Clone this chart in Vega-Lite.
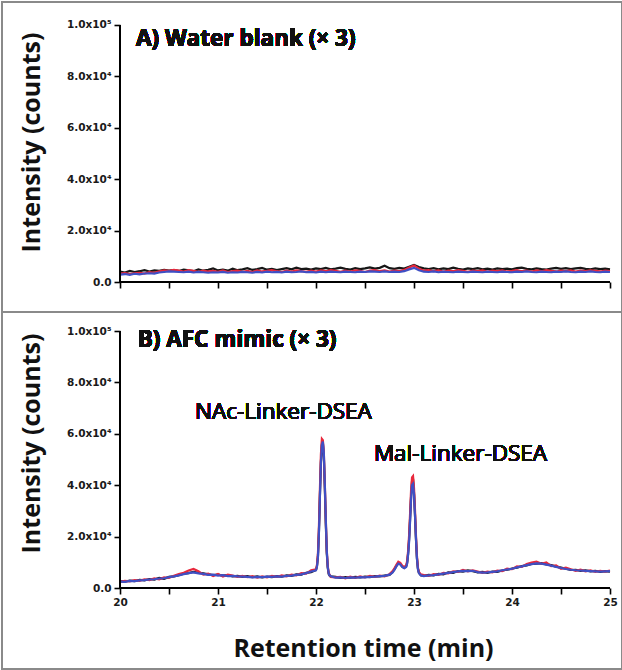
{
  "$schema": "https://vega.github.io/schema/vega-lite/v6.json",
  "padding": 1,
  "spacing": 0,
  "bounds": "flush",
  "background": "white",
  "config": {
    "view": {"stroke": "#8a8a8a", "strokeWidth": 2},
    "axis": {
      "grid": false, "domain": false, "ticks": true,
      "tickColor": "#000", "tickSize": 6, "tickWidth": 1.6,
      "labelFont": "DejaVu Sans", "labelFontWeight": "bold", "labelFontSize": 10.5, "labelColor": "#1a1a1a",
      "labelOverlap": false, "labelFlush": false, "labelBound": false, "labelPadding": 3,
      "titleFont": "Open Sans", "titleFontWeight": "bold", "titleFontSize": 25, "titleColor": "#111"
    },
    "text": {"font": "Open Sans", "color": "#111"}
  },
  "datasets": {
    "a": [
      {"t":20.00,"k":4100,"r":3300,"b":2900},{"t":20.05,"k":3700,"r":3500,"b":3100},{"t":20.10,"k":4300,"r":3100,"b":2800},
      {"t":20.15,"k":3900,"r":3400,"b":3200},{"t":20.20,"k":4200,"r":3600,"b":3000},{"t":20.25,"k":4600,"r":3300,"b":3300},
      {"t":20.30,"k":4100,"r":3800,"b":3400},{"t":20.35,"k":4500,"r":3600,"b":3300},{"t":20.40,"k":4300,"r":4200,"b":3700},
      {"t":20.45,"k":4700,"r":4500,"b":3900},{"t":20.50,"k":4400,"r":4300,"b":4100},{"t":20.55,"k":4600,"r":4700,"b":4000},
      {"t":20.60,"k":4300,"r":4400,"b":3900},{"t":20.65,"k":4800,"r":4100,"b":3800},{"t":20.70,"k":4500,"r":4600,"b":4000},
      {"t":20.75,"k":4200,"r":4300,"b":3700},{"t":20.80,"k":4900,"r":4000,"b":3900},{"t":20.85,"k":4400,"r":4400,"b":3800},
      {"t":20.90,"k":4700,"r":4100,"b":3600},{"t":20.95,"k":5300,"r":4300,"b":3800},{"t":21.00,"k":4500,"r":4000,"b":3700},
      {"t":21.05,"k":4800,"r":4500,"b":3900},{"t":21.10,"k":4400,"r":3900,"b":3600},{"t":21.15,"k":5200,"r":4200,"b":3800},
      {"t":21.20,"k":4600,"r":4400,"b":3700},{"t":21.25,"k":4900,"r":4000,"b":3900},{"t":21.30,"k":5400,"r":4300,"b":3800},
      {"t":21.35,"k":4700,"r":3900,"b":3600},{"t":21.40,"k":5000,"r":4500,"b":3900},{"t":21.45,"k":5500,"r":4100,"b":3700},
      {"t":21.50,"k":4800,"r":4300,"b":4000},{"t":21.55,"k":5100,"r":4600,"b":3800},{"t":21.60,"k":4600,"r":4200,"b":3900},
      {"t":21.65,"k":5000,"r":3900,"b":3700},{"t":21.70,"k":5400,"r":4400,"b":4000},{"t":21.75,"k":4900,"r":4100,"b":3800},
      {"t":21.80,"k":5600,"r":4500,"b":3900},{"t":21.85,"k":5000,"r":4200,"b":4100},{"t":21.90,"k":5200,"r":4000,"b":3800},
      {"t":21.95,"k":4800,"r":4400,"b":3900},{"t":22.00,"k":5300,"r":4100,"b":3700},{"t":22.05,"k":5000,"r":4500,"b":4000},
      {"t":22.10,"k":5500,"r":4200,"b":3800},{"t":22.15,"k":4900,"r":4600,"b":4000},{"t":22.20,"k":5200,"r":4300,"b":3900},
      {"t":22.25,"k":5600,"r":4000,"b":3800},{"t":22.30,"k":5100,"r":4400,"b":4000},{"t":22.35,"k":4800,"r":4100,"b":3900},
      {"t":22.40,"k":5400,"r":4500,"b":3800},{"t":22.45,"k":5000,"r":4300,"b":4000},{"t":22.50,"k":5300,"r":3900,"b":3900},
      {"t":22.55,"k":5700,"r":4400,"b":4100},{"t":22.60,"k":5200,"r":4600,"b":4000},{"t":22.65,"k":5500,"r":4200,"b":3900},
      {"t":22.70,"k":6300,"r":4500,"b":4100},{"t":22.75,"k":5400,"r":4100,"b":3900},{"t":22.80,"k":5100,"r":4400,"b":4000},
      {"t":22.85,"k":5500,"r":4200,"b":3900},{"t":22.90,"k":5200,"r":4700,"b":4200},{"t":22.95,"k":5900,"r":5600,"b":4900},
      {"t":23.00,"k":6600,"r":6400,"b":5500},{"t":23.05,"k":5800,"r":5200,"b":4600},{"t":23.10,"k":5300,"r":4400,"b":4000},
      {"t":23.15,"k":5000,"r":4600,"b":3900},{"t":23.20,"k":5400,"r":4200,"b":4100},{"t":23.25,"k":4900,"r":4500,"b":3800},
      {"t":23.30,"k":5300,"r":4100,"b":4000},{"t":23.35,"k":5000,"r":4400,"b":3900},{"t":23.40,"k":5600,"r":4200,"b":3800},
      {"t":23.45,"k":5100,"r":4600,"b":4000},{"t":23.50,"k":4800,"r":4300,"b":3900},{"t":23.55,"k":5300,"r":4000,"b":3800},
      {"t":23.60,"k":5000,"r":4400,"b":4000},{"t":23.65,"k":5400,"r":4200,"b":3900},{"t":23.70,"k":4900,"r":4500,"b":3800},
      {"t":23.75,"k":5200,"r":4100,"b":4000},{"t":23.80,"k":4800,"r":4400,"b":3900},{"t":23.85,"k":5300,"r":4200,"b":3800},
      {"t":23.90,"k":5000,"r":4500,"b":4000},{"t":23.95,"k":5200,"r":4100,"b":3900},{"t":24.00,"k":4900,"r":4300,"b":3800},
      {"t":24.05,"k":5400,"r":4600,"b":4000},{"t":24.10,"k":5600,"r":4200,"b":3900},{"t":24.15,"k":5100,"r":4400,"b":4100},
      {"t":24.20,"k":4900,"r":4100,"b":3900},{"t":24.25,"k":5300,"r":4500,"b":3800},{"t":24.30,"k":5000,"r":4200,"b":4000},
      {"t":24.35,"k":4800,"r":4600,"b":3900},{"t":24.40,"k":5200,"r":4300,"b":3800},{"t":24.45,"k":5500,"r":4100,"b":4000},
      {"t":24.50,"k":5100,"r":4400,"b":3900},{"t":24.55,"k":5400,"r":4200,"b":4100},{"t":24.60,"k":5000,"r":4500,"b":3900},
      {"t":24.65,"k":5300,"r":4100,"b":3800},{"t":24.70,"k":5500,"r":4400,"b":4000},{"t":24.75,"k":5100,"r":4200,"b":3900},
      {"t":24.80,"k":4900,"r":4500,"b":4100},{"t":24.85,"k":5300,"r":4300,"b":3900},{"t":24.90,"k":5000,"r":4100,"b":3800},
      {"t":24.95,"k":5200,"r":4400,"b":4000},{"t":25.00,"k":4900,"r":4200,"b":3900}
    ],
    "b": [
      {"t":20.00,"k":2700,"r":2400,"b":2500},{"t":20.05,"k":2500,"r":2800,"b":2400},{"t":20.10,"k":2900,"r":2600,"b":2800},
      {"t":20.15,"k":2700,"r":3100,"b":2700},{"t":20.20,"k":3200,"r":2800,"b":3000},{"t":20.25,"k":3000,"r":3400,"b":3100},
      {"t":20.30,"k":3500,"r":3100,"b":3300},{"t":20.35,"k":3300,"r":3700,"b":3400},{"t":20.40,"k":3900,"r":3400,"b":3700},
      {"t":20.45,"k":3600,"r":4100,"b":3800},{"t":20.50,"k":4300,"r":3900,"b":4200},{"t":20.55,"k":4500,"r":4800,"b":4500},
      {"t":20.60,"k":5000,"r":5400,"b":4900},{"t":20.65,"k":5600,"r":5900,"b":5400},{"t":20.70,"k":5800,"r":6800,"b":5800},
      {"t":20.75,"k":6300,"r":7400,"b":6100},{"t":20.80,"k":5900,"r":6500,"b":5700},{"t":20.85,"k":5700,"r":5200,"b":5500},
      {"t":20.90,"k":5300,"r":5600,"b":5100},{"t":20.95,"k":5000,"r":4700,"b":5200},{"t":21.00,"k":5200,"r":5500,"b":4800},
      {"t":21.05,"k":4800,"r":4500,"b":5000},{"t":21.10,"k":5000,"r":5200,"b":4600},{"t":21.15,"k":4500,"r":4800,"b":4700},
      {"t":21.20,"k":4700,"r":4300,"b":4500},{"t":21.25,"k":4300,"r":4700,"b":4400},{"t":21.30,"k":4600,"r":4200,"b":4300},
      {"t":21.35,"k":4200,"r":4600,"b":4100},{"t":21.40,"k":4500,"r":4000,"b":4300},{"t":21.45,"k":4100,"r":4500,"b":4200},
      {"t":21.50,"k":4400,"r":4100,"b":4400},{"t":21.55,"k":4200,"r":4700,"b":4300},{"t":21.60,"k":4600,"r":4300,"b":4500},
      {"t":21.65,"k":4400,"r":4900,"b":4400},{"t":21.70,"k":4900,"r":4500,"b":4700},{"t":21.75,"k":4700,"r":5200,"b":4800},
      {"t":21.80,"k":5300,"r":4900,"b":5100},{"t":21.85,"k":5200,"r":5800,"b":5300},{"t":21.90,"k":5900,"r":5600,"b":5800},
      {"t":21.95,"k":6200,"r":6900,"b":6400},{"t":22.00,"k":7000,"r":7300,"b":6900},{"t":22.01,"k":8500,"r":9000,"b":8300},
      {"t":22.02,"k":12500,"r":13500,"b":12000},{"t":22.03,"k":22000,"r":24000,"b":21500},{"t":22.04,"k":36000,"r":38500,"b":35500},
      {"t":22.05,"k":49000,"r":52000,"b":48500},{"t":22.06,"k":56000,"r":58000,"b":55500},{"t":22.07,"k":56500,"r":57500,"b":57000},
      {"t":22.08,"k":51000,"r":52500,"b":52500},{"t":22.09,"k":39000,"r":40500,"b":40500},{"t":22.10,"k":25000,"r":26500,"b":26500},
      {"t":22.11,"k":13500,"r":14500,"b":14500},{"t":22.12,"k":7800,"r":8500,"b":8200},{"t":22.13,"k":5400,"r":5800,"b":5600},
      {"t":22.14,"k":4800,"r":5100,"b":4900},{"t":22.15,"k":4500,"r":4300,"b":4600},{"t":22.20,"k":4300,"r":4100,"b":4000},
      {"t":22.25,"k":3900,"r":4300,"b":4100},{"t":22.30,"k":4200,"r":3800,"b":3900},{"t":22.35,"k":4000,"r":4400,"b":4100},
      {"t":22.40,"k":4300,"r":3900,"b":4000},{"t":22.45,"k":4100,"r":4500,"b":4200},{"t":22.50,"k":4400,"r":4100,"b":4100},
      {"t":22.55,"k":4200,"r":4700,"b":4300},{"t":22.60,"k":4600,"r":4300,"b":4400},{"t":22.65,"k":4500,"r":4800,"b":4600},
      {"t":22.70,"k":4800,"r":4500,"b":4700},{"t":22.75,"k":5100,"r":5400,"b":5200},{"t":22.78,"k":6200,"r":6500,"b":6000},
      {"t":22.80,"k":7200,"r":7600,"b":7000},{"t":22.82,"k":8600,"r":9000,"b":8400},{"t":22.84,"k":9600,"r":10200,"b":9500},
      {"t":22.86,"k":9300,"r":9800,"b":9200},{"t":22.88,"k":8300,"r":8700,"b":8200},{"t":22.90,"k":7800,"r":8100,"b":7700},
      {"t":22.92,"k":8400,"r":8800,"b":8200},{"t":22.93,"k":9800,"r":10500,"b":9500},{"t":22.94,"k":13500,"r":14500,"b":13000},
      {"t":22.95,"k":19000,"r":20500,"b":18000},{"t":22.96,"k":27000,"r":29000,"b":26000},{"t":22.97,"k":35500,"r":38000,"b":34500},
      {"t":22.98,"k":41500,"r":43000,"b":40000},{"t":22.99,"k":42500,"r":43500,"b":40500},{"t":23.00,"k":37000,"r":39000,"b":36500},
      {"t":23.01,"k":28500,"r":30500,"b":28500},{"t":23.02,"k":19000,"r":20500,"b":19500},{"t":23.03,"k":11500,"r":12500,"b":11500},
      {"t":23.04,"k":7500,"r":8000,"b":7400},{"t":23.05,"k":5900,"r":6200,"b":5800},{"t":23.07,"k":5000,"r":5300,"b":4900},
      {"t":23.10,"k":4700,"r":5000,"b":4600},{"t":23.15,"k":5100,"r":4700,"b":4900},{"t":23.20,"k":4900,"r":5400,"b":5000},
      {"t":23.25,"k":5500,"r":5100,"b":5300},{"t":23.30,"k":5300,"r":5900,"b":5600},{"t":23.35,"k":6100,"r":5700,"b":5900},
      {"t":23.40,"k":5900,"r":6500,"b":6200},{"t":23.45,"k":6600,"r":6300,"b":6500},{"t":23.50,"k":6400,"r":7000,"b":6700},
      {"t":23.55,"k":6900,"r":6500,"b":6600},{"t":23.60,"k":6500,"r":6900,"b":6700},{"t":23.65,"k":6100,"r":6400,"b":6200},
      {"t":23.70,"k":6300,"r":5900,"b":6000},{"t":23.75,"k":5900,"r":6400,"b":6100},{"t":23.80,"k":6400,"r":6100,"b":6300},
      {"t":23.85,"k":6300,"r":6800,"b":6500},{"t":23.90,"k":6800,"r":6600,"b":6900},{"t":23.95,"k":7100,"r":7500,"b":7200},
      {"t":24.00,"k":7600,"r":7300,"b":7500},{"t":24.05,"k":7900,"r":8400,"b":8000},{"t":24.10,"k":8500,"r":8200,"b":8400},
      {"t":24.15,"k":8800,"r":9300,"b":8900},{"t":24.20,"k":9400,"r":9900,"b":9300},{"t":24.25,"k":9500,"r":10300,"b":9600},
      {"t":24.30,"k":9700,"r":9400,"b":9500},{"t":24.35,"k":9200,"r":9900,"b":9100},{"t":24.40,"k":8900,"r":8500,"b":8700},
      {"t":24.45,"k":8300,"r":8800,"b":8200},{"t":24.50,"k":7900,"r":7500,"b":7800},{"t":24.55,"k":7500,"r":7900,"b":7400},
      {"t":24.60,"k":7000,"r":7300,"b":7100},{"t":24.65,"k":7100,"r":6700,"b":6900},{"t":24.70,"k":6700,"r":7100,"b":6800},
      {"t":24.75,"k":6900,"r":6500,"b":6700},{"t":24.80,"k":6500,"r":6900,"b":6600},{"t":24.85,"k":6700,"r":6300,"b":6500},
      {"t":24.90,"k":6300,"r":6700,"b":6400},{"t":24.95,"k":6600,"r":6400,"b":6500},{"t":25.00,"k":6400,"r":6800,"b":6600}
    ]
  },
  "vconcat": [
    {
      "width": 620, "height": 310,
      "data": {"name": "a"},
      "layer": [
        {"mark": {"type": "line", "color": "#161616", "strokeWidth": 2.2},
         "encoding": {
           "x": {"field": "t", "type": "quantitative", "scale": {"domain": [18.7959, 25.1224], "nice": false, "zero": false},
                 "axis": {"values": [20,20.5,21,21.5,22,22.5,23,23.5,24,24.5,25], "labels": false, "offset": -30, "title": null}},
           "y": {"field": "k", "type": "quantitative", "scale": {"domain": [-11673, 108949], "nice": false, "zero": false},
                 "axis": {"values": [0,10000,20000,30000,40000,50000,60000,70000,80000,90000,100000], "offset": -118,
                          "labelExpr": "datum.value == 0 ? '0.0' : (datum.value == 100000 ? '1.0x10⁵' : (datum.value % 20000 == 0 ? format(datum.value/10000, '.1f') + 'x10⁴' : ''))",
                          "title": "Intensity (counts)", "titleAngle": 270, "titleX": -89, "titleY": 140, "titleAlign": "center", "titleBaseline": "middle"}}
         }},
        {"mark": {"type": "line", "color": "#e8283c", "strokeWidth": 2.2},
         "encoding": {
           "x": {"field": "t", "type": "quantitative"},
           "y": {"field": "r", "type": "quantitative"}
         }},
        {"mark": {"type": "line", "color": "#3f4fc4", "strokeWidth": 2.2},
         "encoding": {
           "x": {"field": "t", "type": "quantitative"},
           "y": {"field": "b", "type": "quantitative"}
         }},
        {"mark": {"type": "rule", "color": "#000", "strokeWidth": 1.6},
         "encoding": {
           "x": {"datum": 20, "type": "quantitative"},
           "x2": {"datum": 25},
           "y": {"datum": 0, "type": "quantitative"}
         }},
        {"mark": {"type": "rule", "color": "#000", "strokeWidth": 1.6},
         "encoding": {
           "x": {"datum": 20, "type": "quantitative"},
           "y": {"datum": 0, "type": "quantitative"},
           "y2": {"datum": 100000}
         }},
        {"mark": {"type": "text", "align": "left", "baseline": "middle", "fontSize": 22.5, "fontWeight": "bold"},
         "encoding": {
           "x": {"datum": 20.163, "type": "quantitative"},
           "y": {"datum": 94553, "type": "quantitative"},
           "text": {"value": "A) Water blank (× 3)"}
         }}
      ]
    },
    {
      "width": 620, "height": 357,
      "data": {"name": "b"},
      "layer": [
        {"mark": {"type": "line", "color": "#161616", "strokeWidth": 2.2},
         "encoding": {
           "x": {"field": "t", "type": "quantitative", "scale": {"domain": [18.7959, 25.1224], "nice": false, "zero": false},
                 "axis": {"values": [20,20.5,21,21.5,22,22.5,23,23.5,24,24.5,25], "offset": -81,
                          "labelExpr": "datum.value % 1 == 0 ? format(datum.value, 'd') : ''",
                          "title": "Retention time (min)", "titleX": 361, "titleY": 60, "titleAlign": "center", "titleBaseline": "middle"}},
           "y": {"field": "k", "type": "quantitative", "scale": {"domain": [-31517, 107393], "nice": false, "zero": false},
                 "axis": {"values": [0,10000,20000,30000,40000,50000,60000,70000,80000,90000,100000], "offset": -118,
                          "labelExpr": "datum.value == 0 ? '0.0' : (datum.value == 100000 ? '1.0x10⁵' : (datum.value % 20000 == 0 ? format(datum.value/10000, '.1f') + 'x10⁴' : ''))",
                          "title": "Intensity (counts)", "titleAngle": 270, "titleX": -89, "titleY": 131, "titleAlign": "center", "titleBaseline": "middle"}}
         }},
        {"mark": {"type": "line", "color": "#e8283c", "strokeWidth": 2.2},
         "encoding": {
           "x": {"field": "t", "type": "quantitative"},
           "y": {"field": "r", "type": "quantitative"}
         }},
        {"mark": {"type": "line", "color": "#3f4fc4", "strokeWidth": 2.2},
         "encoding": {
           "x": {"field": "t", "type": "quantitative"},
           "y": {"field": "b", "type": "quantitative"}
         }},
        {"mark": {"type": "rule", "color": "#000", "strokeWidth": 1.6},
         "encoding": {
           "x": {"datum": 20, "type": "quantitative"},
           "x2": {"datum": 25},
           "y": {"datum": 0, "type": "quantitative"}
         }},
        {"mark": {"type": "rule", "color": "#000", "strokeWidth": 1.6},
         "encoding": {
           "x": {"datum": 20, "type": "quantitative"},
           "y": {"datum": 0, "type": "quantitative"},
           "y2": {"datum": 100000}
         }},
        {"mark": {"type": "text", "align": "left", "baseline": "middle", "fontSize": 22.5, "fontWeight": "bold"},
         "encoding": {
           "x": {"datum": 20.18, "type": "quantitative"},
           "y": {"datum": 96498, "type": "quantitative"},
           "text": {"value": "B) AFC mimic (× 3)"}
         }},
        {"mark": {"type": "text", "align": "center", "baseline": "middle", "fontSize": 22.5, "fontWeight": "normal"},
         "encoding": {
           "x": {"datum": 21.668, "type": "quantitative"},
           "y": {"datum": 68482, "type": "quantitative"},
           "text": {"value": "NAc-Linker-DSEA"}
         }},
        {"mark": {"type": "text", "align": "center", "baseline": "middle", "fontSize": 22.5, "fontWeight": "normal"},
         "encoding": {
           "x": {"datum": 23.474, "type": "quantitative"},
           "y": {"datum": 52140, "type": "quantitative"},
           "text": {"value": "Mal-Linker-DSEA"}
         }}
      ]
    }
  ]
}
